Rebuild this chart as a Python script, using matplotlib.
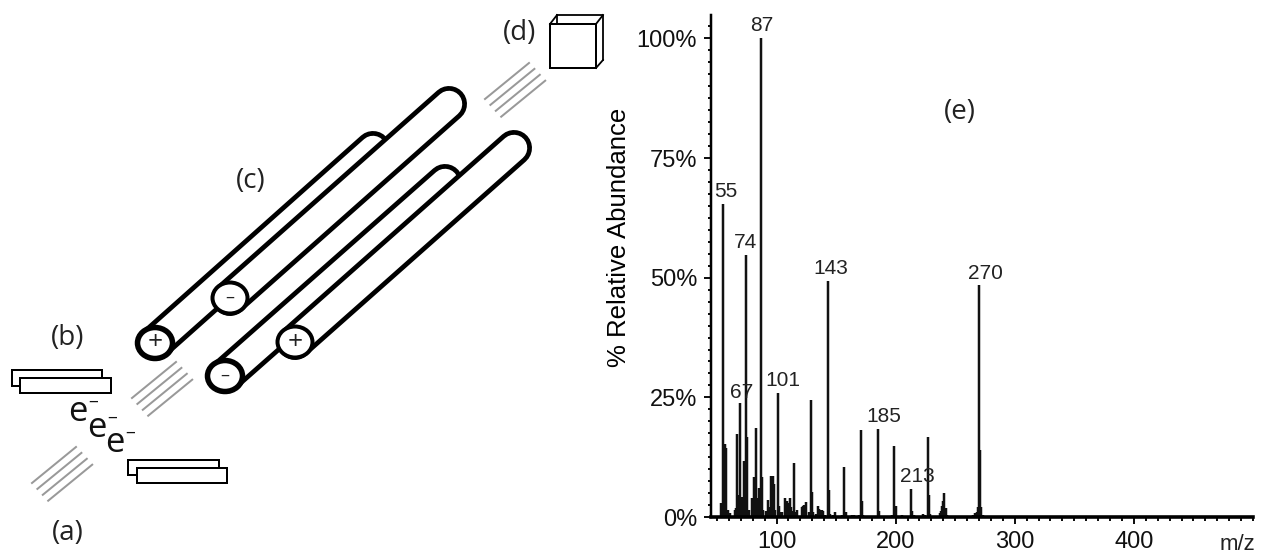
import matplotlib

matplotlib.use("Agg")
import matplotlib.pyplot as plt
from matplotlib.patches import Ellipse, Rectangle
from matplotlib.ticker import MultipleLocator, FuncFormatter

W, H = 1262, 555
PX = 0.72  # points per pixel at dpi 100

# spectrum
peak_mz = [53, 55, 56, 57, 58, 59, 61, 65, 66, 67, 68, 69, 70, 71, 72, 73, 74, 75, 76, 77,
           79, 80, 81, 82, 83, 84, 85, 86, 87, 88, 89, 91, 93, 94, 95, 96, 97, 98, 99, 101, 102,
           103, 105, 107, 108, 109, 110, 111, 112, 113, 115, 116, 117, 121, 122, 123, 124, 125,
           127, 129, 130, 131, 133, 135, 136, 137, 138, 139, 141, 143, 144, 145, 147, 149, 151,
           155, 157, 158, 159, 163, 165, 169, 171, 172, 173, 177, 183, 185, 186, 187, 195, 197,
           199, 200, 201, 205, 211, 213, 214, 215, 219, 223, 225, 227, 228, 229, 235, 237, 238,
           239, 240, 241, 242, 243, 261, 265, 267, 268, 269, 270, 271, 272, 273, 285, 300, 310,
           320, 330]
peak_abundance = [3.0, 65.5, 5.0, 15.2, 14.5, 1.5, 0.8, 1.5, 1.8, 17.3, 4.5, 23.8, 3.0, 4.2, 2.0,
                  11.6, 54.8, 16.7, 1.5, 1.5, 4.0, 2.0, 8.3, 3.5, 18.6, 4.0, 6.0, 3.0, 100.0, 8.3,
                  1.5, 1.2, 3.6, 2.0, 8.6, 8.6, 8.6, 7.0, 1.5, 25.9, 2.2, 1.0, 1.0, 4.0, 2.0, 3.3,
                  3.0, 4.0, 2.0, 1.2, 11.3, 1.0, 1.4, 2.0, 2.2, 2.5, 2.6, 3.1, 1.0, 24.5, 5.2, 1.0,
                  0.6, 2.4, 1.6, 1.5, 1.4, 1.2, 0.5, 49.3, 5.6, 0.7, 0.5, 1.1, 0.3, 0.4, 10.5, 1.0,
                  0.3, 0.5, 0.5, 0.5, 18.1, 3.4, 0.4, 0.3, 0.3, 18.3, 1.2, 0.3, 0.3, 0.5, 14.8,
                  2.4, 0.3, 0.5, 0.3, 5.8, 1.2, 0.5, 0.3, 0.6, 0.5, 16.8, 4.7, 0.6, 0.3, 0.8, 1.2,
                  2.4, 3.3, 5.1, 1.9, 0.5, 0.3, 0.5, 0.8, 1.0, 2.0, 48.5, 14.0, 2.0, 0.5, 0.2, 0.2,
                  0.2, 0.2, 0.2]

label_mz = [55, 67, 74, 87, 101, 143, 185, 213, 270]
label_y = [66.0, 24.0, 55.3, 100.8, 26.5, 50.0, 19.0, 6.4, 49.0]
label_x = [57.5, 71, 74, 88, 105, 146, 190, 218, 275]

x_ticks = [100, 200, 300, 400]
y_ticks = [0, 25, 50, 75, 100]

fig = plt.figure(figsize=(W / 100, H / 100), dpi=100)

# right panel
ax = fig.add_axes([711 / W, 1 - 517 / H, (1253 - 711) / W, (517 - 15) / H])
ax.set_xlim(45, 500)
ax.set_ylim(0, 104.9)
ax.vlines(peak_mz, 0, peak_abundance, color="#111111", lw=2.5 * PX)
for mz, x, y in zip(label_mz, label_x, label_y):
    ax.text(x, y, str(mz), ha="center", va="bottom", family="Liberation Sans", fontsize=15,
            color="#222222")

for side in ["top", "right"]:
    ax.spines[side].set_visible(False)
ax.spines["left"].set_linewidth(2.5 * PX)
ax.spines["bottom"].set_linewidth(3.6 * PX)
ax.set_xticks(x_ticks)
ax.set_yticks(y_ticks)
ax.yaxis.set_major_formatter(FuncFormatter(lambda v, p: f"{v:.0f}%"))
ax.xaxis.set_minor_locator(MultipleLocator(10))
ax.yaxis.set_minor_locator(MultipleLocator(2.5))
ax.tick_params(which="major", length=7 * PX, width=2 * PX, labelsize=17, pad=5, colors="#111111")
ax.tick_params(which="minor", length=3.5 * PX, width=2 * PX, colors="#111111")
for lab in ax.get_xticklabels() + ax.get_yticklabels():
    lab.set_family("Liberation Sans")
ax.set_ylabel("% Relative Abundance", family="Liberation Sans", fontsize=18.5)
ax.yaxis.set_label_coords((631 - 711) / (1253 - 711), (517 - 237) / (517 - 15))

# schematic, in picture pixels
sk = fig.add_axes([0, 0, 1, 1], facecolor="none")
sk.set_xlim(0, W)
sk.set_ylim(H, 0)
sk.axis("off")

# front x, front y, back x, back y, sign, ring width
rods = [
    (155, 343, 373, 149, "+", 5.5),
    (230, 298, 449, 104, "\u2013", 4),
    (225, 376, 445, 182, "\u2013", 5.5),
    (295, 342, 514, 148, "+", 4),
]
for x0, y0, x1, y1, sign, ring in rods:
    sk.plot([x0, x1], [y0, y1], color="black", lw=36 * PX, solid_capstyle="round")
    sk.plot([x0, x1], [y0, y1], color="white", lw=26.5 * PX, solid_capstyle="round")
    sk.add_patch(Ellipse((x0, y0), 35, 31, fc="white", ec="black", lw=ring * PX, zorder=3))
    sk.text(x0, y0, sign, ha="center", va="center", family="Open Sans",
            fontsize=19 if sign == "+" else 13, color="#222222", zorder=4)

# beams: start of first stroke, four strokes stepped along the path
beam_starts = [(32, 483), (132, 398), (485, 99)]
for bx, by in beam_starts:
    for i in range(4):
        sx, sy = bx + 5.4 * i, by + 5.9 * i
        sk.plot([sx, sx + 44], [sy, sy - 36], color="#999999", lw=2 * PX)

# plates
plates = [(12, 370, 90, 16), (20, 378, 91, 15), (128, 460, 91, 15), (137, 468, 90, 15)]
for x, y, w, h in plates:
    sk.add_patch(Rectangle((x, y), w, h, fc="white", ec="black", lw=2 * PX))

# detector
sk.plot([557, 603, 603], [15, 15, 60], color="black", lw=1.8 * PX)
sk.plot([557, 557], [15, 24], color="black", lw=1.8 * PX)
sk.plot([550, 557], [24, 15], color="black", lw=1.8 * PX)
sk.plot([596, 603], [24, 15], color="black", lw=1.8 * PX)
sk.plot([596, 603], [68, 60], color="black", lw=1.8 * PX)
sk.add_patch(Rectangle((550, 24), 46, 44, fc="white", ec="black", lw=2 * PX))

panel_labels = [("(a)", 68, 533), ("(b)", 68, 338), ("(c)", 251, 181), ("(d)", 520, 33), ("(e)", 960, 112)]
for s, x, y in panel_labels:
    sk.text(x, y, s, ha="center", va="center", family="Open Sans", fontsize=20, color="#222222")

electrons = [(78, 412), (97, 428), (115, 443)]
for x, y in electrons:
    sk.text(x, y, "e", ha="center", va="center", family="Open Sans", fontsize=25, color="#111111")
    sk.text(x + 15, y - 10, "\u2013", ha="center", va="center", family="Open Sans", fontsize=14, color="#111111")

sk.text(1237, 544, "m/z", ha="center", va="center", family="Liberation Sans", fontsize=16, color="#222222")

fig.savefig("out.png", dpi=100)
